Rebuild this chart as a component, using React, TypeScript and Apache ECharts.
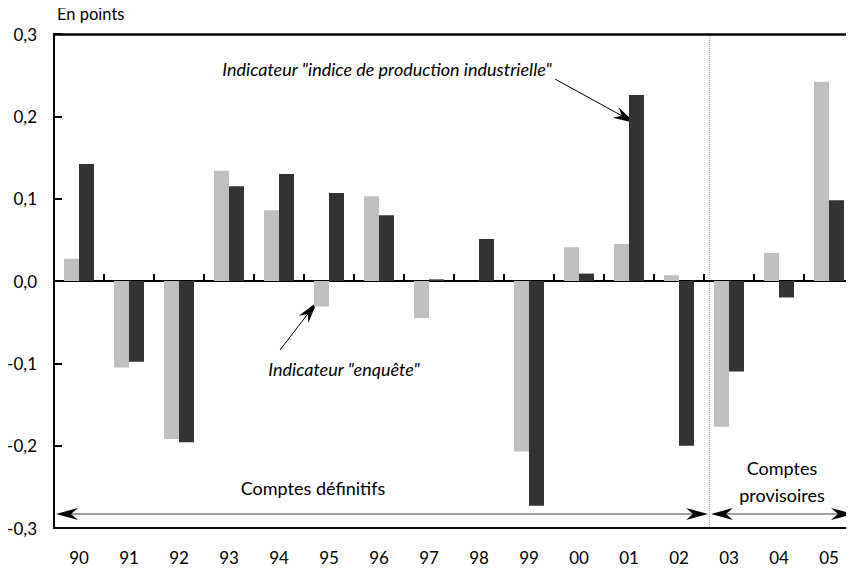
import React, { useEffect, useRef } from "react";
import * as echarts from "echarts";

const years = ["90", "91", "92", "93", "94", "95", "96", "97", "98", "99", "00", "01", "02", "03", "04", "05"];
const enquete = [0.027, -0.105, -0.192, 0.134, 0.086, -0.031, 0.103, -0.045, 0, -0.207, 0.041, 0.045, 0.007, -0.177, 0.034, 0.242];
const ipi = [0.142, -0.098, -0.196, 0.115, 0.130, 0.107, 0.080, 0.002, 0.051, -0.273, 0.009, 0.226, -0.200, -0.110, -0.020, 0.098];
const yTicks = { min: -0.3, max: 0.3, interval: 0.1 };

const FONT = "Lato";
const W = 854;
const H = 572;
const GL = 54;
const GT = 34;
const GR = 861;
const GB = 528;
const catW = (GR - GL) / years.length;
const splitX = GL + 13 * catW;

function stealth(tipX: number, y: number, dir: number) {
  const len = 22;
  const half = 6;
  const notch = 7;
  return {
    type: "polygon",
    shape: {
      points: [
        [tipX, y],
        [tipX - dir * len, y - half],
        [tipX - dir * (len - notch), y],
        [tipX - dir * len, y + half],
      ],
    },
    style: { fill: "#000" },
    silent: true,
  };
}

function slantArrow(x1: number, y1: number, x2: number, y2: number) {
  const ang = Math.atan2(y2 - y1, x2 - x1);
  const len = 22;
  const half = 6;
  const notch = 7;
  const c = Math.cos(ang);
  const s = Math.sin(ang);
  const pt = (back: number, side: number) => [x2 - c * back - s * side, y2 - s * back + c * side];
  return [
    {
      type: "line",
      shape: { x1, y1, x2: x2 - c * 10, y2: y2 - s * 10 },
      style: { stroke: "#000", lineWidth: 1 },
      silent: true,
    },
    {
      type: "polygon",
      shape: { points: [[x2, y2], pt(len, -half), pt(len - notch, 0), pt(len, half)] },
      style: { fill: "#000" },
      silent: true,
    },
  ];
}

export default function App() {
  const ref = useRef<HTMLDivElement>(null);
  useEffect(() => {
    if (!ref.current) return;
    const chart = echarts.init(ref.current, null, { renderer: "svg" });
    const arrowY = 514;
    chart.setOption({
      animation: false,
      backgroundColor: "#fff",
      textStyle: { fontFamily: FONT },
      grid: { left: GL, top: GT, right: W - GR, bottom: H - GB, containLabel: false },
      xAxis: [
        {
          type: "category",
          data: years,
          position: "bottom",
          axisLine: { show: true, onZero: false, lineStyle: { color: "#000", width: 2 } },
          axisTick: { show: false },
          axisLabel: { color: "#000", fontSize: 17, fontFamily: FONT, margin: 21 },
          splitLine: { show: false },
        },
        {
          type: "category",
          data: years,
          position: "bottom",
          axisLine: { show: true, onZero: true, lineStyle: { color: "#000", width: 2 } },
          axisTick: { show: true, inside: true, length: 7, interval: 0, lineStyle: { color: "#000", width: 2 } },
          axisLabel: { show: false },
          splitLine: { show: false },
        },
        {
          type: "category",
          data: years,
          position: "top",
          axisLine: { show: true, onZero: false, lineStyle: { color: "#000", width: 2.5 } },
          axisTick: { show: false },
          axisLabel: { show: false },
          splitLine: { show: false },
        },
      ],
      yAxis: {
        type: "value",
        min: yTicks.min,
        max: yTicks.max,
        interval: yTicks.interval,
        axisLine: { show: true, lineStyle: { color: "#000", width: 2 } },
        axisTick: { show: true, inside: true, length: 8, lineStyle: { color: "#000", width: 2 } },
        axisLabel: {
          color: "#000",
          fontSize: 17,
          fontFamily: FONT,
          margin: 17,
          formatter: (v: number) => v.toFixed(1).replace(".", ","),
        },
        splitLine: { show: false },
      },
      series: [
        {
          name: 'Indicateur "enquête"',
          type: "bar",
          xAxisIndex: 0,
          data: enquete,
          barWidth: 15,
          barGap: "0%",
          itemStyle: { color: "#bfbfbf" },
        },
        {
          name: 'Indicateur "indice de production industrielle"',
          type: "bar",
          xAxisIndex: 0,
          data: ipi,
          barWidth: 15,
          barGap: "0%",
          itemStyle: { color: "#333333" },
        },
      ],
      graphic: [
        {
          type: "text",
          left: 57,
          top: 5,
          style: { text: "En points", fontSize: 16.5, fontFamily: FONT, fill: "#000" },
        },
        {
          type: "line",
          shape: { x1: splitX, y1: GT + 2, x2: splitX, y2: GB - 1 },
          style: { stroke: "#999", lineWidth: 1, lineDash: [1, 1] },
          silent: true,
        },
        {
          type: "line",
          shape: { x1: 60, y1: arrowY, x2: 704, y2: arrowY },
          style: { stroke: "#808080", lineWidth: 1.5 },
          silent: true,
        },
        stealth(56, arrowY, -1),
        stealth(708, arrowY, 1),
        {
          type: "line",
          shape: { x1: 714, y1: arrowY, x2: 849, y2: arrowY },
          style: { stroke: "#808080", lineWidth: 1.5 },
          silent: true,
        },
        stealth(711, arrowY, -1),
        stealth(853, arrowY, 1),
        {
          type: "text",
          x: 313,
          y: 488,
          style: {
            text: "Comptes définitifs",
            fontSize: 18,
            fontFamily: FONT,
            fill: "#000",
            align: "center",
            verticalAlign: "middle",
          },
        },
        {
          type: "text",
          x: 782,
          y: 481,
          style: {
            text: "Comptes\nprovisoires",
            fontSize: 18,
            lineHeight: 27,
            fontFamily: FONT,
            fill: "#000",
            align: "center",
            verticalAlign: "middle",
          },
        },
        {
          type: "text",
          x: 387,
          y: 69,
          style: {
            text: 'Indicateur "indice de production industrielle"',
            fontSize: 18,
            fontStyle: "italic",
            fontFamily: FONT,
            fill: "#000",
            align: "center",
            verticalAlign: "middle",
          },
        },
        ...slantArrow(555, 79, 635, 123),
        {
          type: "text",
          x: 344,
          y: 369,
          style: {
            text: 'Indicateur "enquête"',
            fontSize: 18,
            fontStyle: "italic",
            fontFamily: FONT,
            fill: "#000",
            align: "center",
            verticalAlign: "middle",
          },
        },
        ...slantArrow(280, 350, 317, 302),
      ],
    });
    return () => chart.dispose();
  }, []);
  return <div ref={ref} style={{ width: W, height: H, margin: -8 }} />;
}
